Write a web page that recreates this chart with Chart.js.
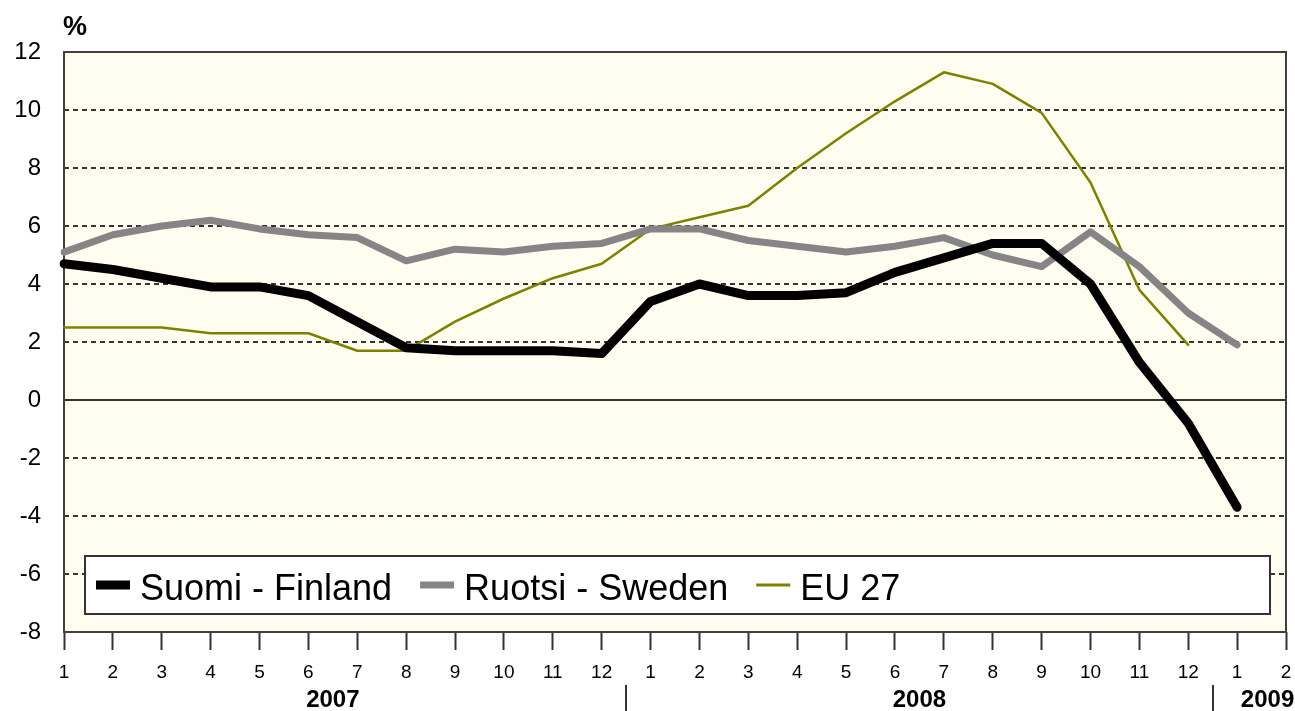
<!DOCTYPE html>
<html><head><meta charset="utf-8">
<script src="https://cdn.jsdelivr.net/npm/chart.js@4/dist/chart.umd.min.js"></script>
<style>html,body{margin:0;padding:0;background:#fff}#wrap{width:1295px;height:711px;position:relative}</style>
</head><body><div id="wrap"><canvas id="c" width="1295" height="711"></canvas></div>
<script>
const months = ['1','2','3','4','5','6','7','8','9','10','11','12','1','2','3','4','5','6','7','8','9','10','11','12','1','2'];
const years = ['2007','2008','2009'];
const yearStart = [0, 12, 24];
const yearEnd = [11, 23, 25];
const yTicks = [-8,-6,-4,-2,0,2,4,6,8,10,12];
const finland = [4.7,4.5,4.2,3.9,3.9,3.6,2.7,1.8,1.7,1.7,1.7,1.6, 3.4,4.0,3.6,3.6,3.7,4.4,4.9,5.4,5.4,4.0,1.3,-0.8, -3.7,null];
const sweden  = [5.1,5.7,6.0,6.2,5.9,5.7,5.6,4.8,5.2,5.1,5.3,5.4, 5.9,5.9,5.5,5.3,5.1,5.3,5.6,5.0,4.6,5.8,4.6,3.0, 1.9,null];
const eu27    = [2.5,2.5,2.5,2.3,2.3,2.3,1.7,1.7,2.7,3.5,4.2,4.7, 5.9,6.3,6.7,8.0,9.2,10.3,11.3,10.9,9.9,7.5,3.8,1.9, null,null];
const seriesNames = ['Suomi - Finland','Ruotsi - Sweden','EU 27'];
const seriesColors = ['#000000','#858585','#808000'];
const seriesWidths = [9, 7, 2.5];
const legendWidths = [9, 7, 3];

const FONT = "'Liberation Sans', Arial, sans-serif";

const plotDecor = {
  id: 'plotDecor',
  beforeDraw(chart) {
    const {ctx, chartArea: a} = chart;
    ctx.save();
    ctx.fillStyle = '#FFFDF0';
    ctx.fillRect(a.left, a.top, a.right - a.left, a.bottom - a.top);
    ctx.restore();
  },
  beforeDatasetsDraw(chart) {
    const {ctx, chartArea: a} = chart;
    const y = chart.scales.y;
    ctx.save();
    ctx.strokeStyle = '#333';
    ctx.lineWidth = 2;
    const y0 = Math.round(y.getPixelForValue(0));
    ctx.beginPath(); ctx.moveTo(a.left, y0); ctx.lineTo(a.right, y0); ctx.stroke();
    ctx.strokeStyle = '#404040';
    ctx.strokeRect(a.left, a.top, a.right - a.left, a.bottom - a.top);
    ctx.restore();
  },
  afterDraw(chart) {
    const {ctx, chartArea: a} = chart;
    const x = chart.scales.x;
    ctx.save();
    // legend box
    const lx = a.left + 21, ly = a.bottom - 76, lw = a.right - a.left - 37, lh = 58;
    ctx.fillStyle = '#fff';
    ctx.fillRect(lx, ly, lw, lh);
    ctx.strokeStyle = '#333'; ctx.lineWidth = 2;
    ctx.strokeRect(lx, ly, lw, lh);
    ctx.font = '36px ' + FONT;
    ctx.textBaseline = 'alphabetic'; ctx.textAlign = 'left';
    let cx = lx + 11;
    chart.data.datasets.forEach((ds, i) => {
      ctx.strokeStyle = ds.borderColor; ctx.lineWidth = legendWidths[i];
      ctx.lineCap = 'butt';
      ctx.beginPath(); ctx.moveTo(cx, ly + 29); ctx.lineTo(cx + 34, ly + 29); ctx.stroke();
      ctx.fillStyle = '#000';
      ctx.fillText(ds.label, cx + 44, ly + 44);
      cx += 44 + ctx.measureText(ds.label).width + 28;
    });
    // % label
    ctx.font = 'bold 27px ' + FONT;
    ctx.fillStyle = '#000';
    ctx.fillText('%', a.left - 1, a.top - 17);
    // years
    ctx.font = 'bold 24px ' + FONT;
    ctx.textAlign = 'center';
    years.forEach((yr, i) => {
      let c = (x.getPixelForValue(yearStart[i]) + x.getPixelForValue(yearEnd[i])) / 2;
      if (i === years.length - 1) c += 6;
      ctx.fillText(yr, c, 707);
      if (i < years.length - 1) {
        const sx = Math.round((x.getPixelForValue(yearEnd[i]) + x.getPixelForValue(yearStart[i + 1])) / 2);
        ctx.strokeStyle = '#333'; ctx.lineWidth = 2;
        ctx.beginPath(); ctx.moveTo(sx, 685); ctx.lineTo(sx, 711); ctx.stroke();
      }
    });
    ctx.restore();
  }
};

const datasets = [finland, sweden, eu27].map((d, i) => ({
  label: seriesNames[i],
  data: d,
  borderColor: seriesColors[i],
  backgroundColor: seriesColors[i],
  borderWidth: seriesWidths[i],
  pointRadius: 0,
  tension: 0,
  borderJoinStyle: 'round',
  borderCapStyle: 'round',
  spanGaps: false
}));

new Chart(document.getElementById('c'), {
  type: 'line',
  data: { labels: months, datasets },
  plugins: [plotDecor],
  options: {
    responsive: false,
    animation: false,
    devicePixelRatio: 1,
    layout: { padding: { top: 52, right: 9, left: 0, bottom: 0 } },
    plugins: { legend: { display: false }, tooltip: { enabled: false } },
    scales: {
      x: {
        type: 'category',
        offset: false,
        afterFit(s) { s.height = 79; s.paddingRight = 0; s.paddingLeft = 0; },
        border: { display: false },
        grid: { drawOnChartArea: false, drawTicks: true, tickLength: 18, tickColor: '#333', tickWidth: 2, color: '#333' },
        ticks: { color: '#000', font: { family: FONT, size: 19 }, padding: 11, maxRotation: 0, autoSkip: false }
      },
      y: {
        min: -8, max: 12,
        afterFit(s) { s.width = 64; s.paddingTop = 0; s.paddingBottom = 0; },
        afterBuildTicks(s) { s.ticks = yTicks.map(v => ({ value: v })); },
        border: { display: false, dash: [5, 4] },
        grid: {
          drawTicks: false,
          lineWidth: 2,
          color: (c) => (c.tick && (c.tick.value === 0 || c.tick.value === 12 || c.tick.value === -8)) ? 'rgba(0,0,0,0)' : '#333'
        },
        ticks: { color: '#000', font: { family: FONT, size: 24 }, padding: 23 }
      }
    }
  }
});
</script>
</body></html>
